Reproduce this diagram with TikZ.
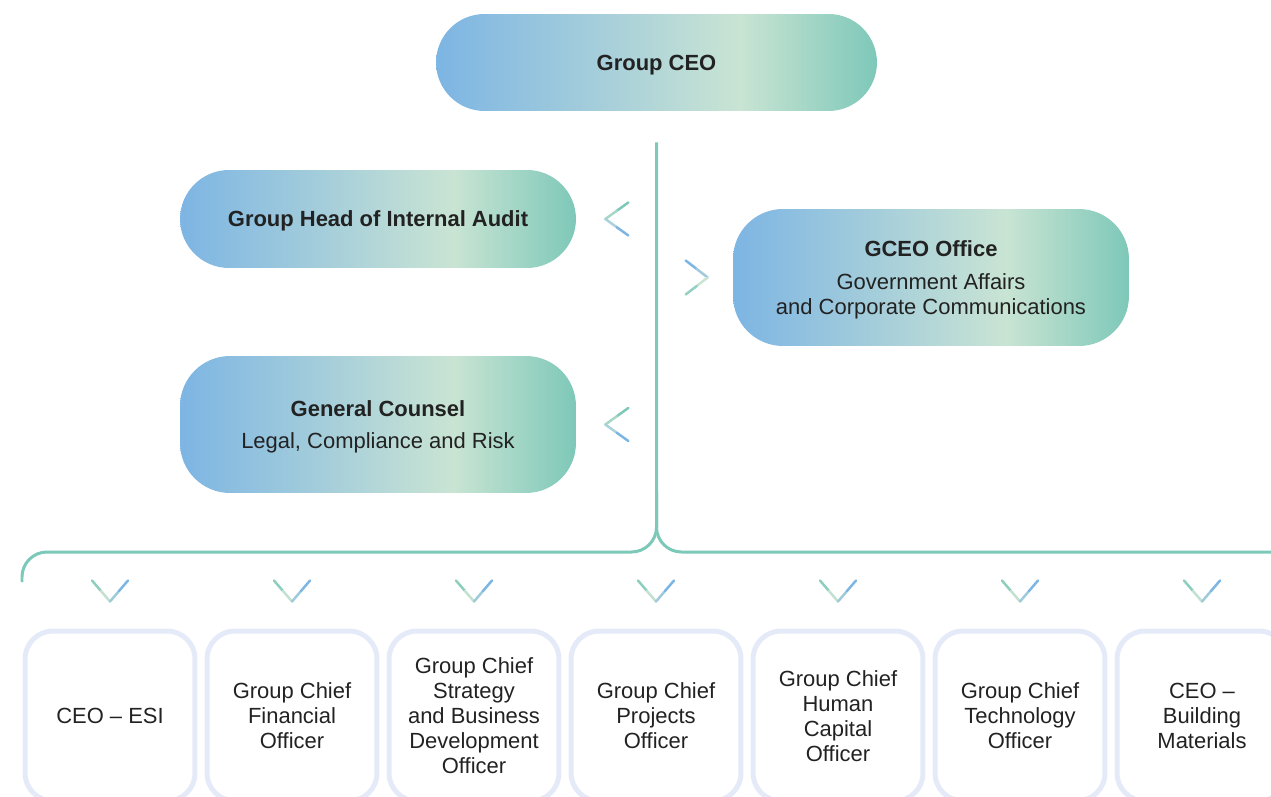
\documentclass[tikz,border=0pt]{standalone}
\usepackage{fontspec}
\setmainfont{Liberation Sans}
\usetikzlibrary{calc}

\definecolor{gBlue}{HTML}{7DB5E3}
\definecolor{gPale}{HTML}{C9E4D3}
\definecolor{gTeal}{HTML}{7EC8B9}
\definecolor{lineTeal}{HTML}{7CC8B9}
\definecolor{frameLav}{HTML}{E4EAF7}
\definecolor{ink}{HTML}{222222}

% blue -> pale mint -> teal fill of the leadership boxes
\pgfdeclarehorizontalshading{brand}{100bp}{%
  color(0bp)=(gBlue); color(25bp)=(gBlue); color(59.5bp)=(gPale);
  color(75bp)=(gTeal); color(100bp)=(gTeal)}

\begin{document}
\begin{tikzpicture}[x=0.02cm, y=-0.02cm,
  pill/.style={shading=brand, draw=none, align=center, text=ink,
    inner sep=0pt, text depth=0pt, font=\fontsize{12.5}{14.2}\selectfont},
  unit/.style={draw=frameLav, line width=0.1cm, rounded corners=0.56cm,
    minimum width=3.4cm, minimum height=3.4cm, align=center, text=ink,
    inner sep=0pt, font=\fontsize{12.5}{14.2}\selectfont},
  spine/.style={draw=lineTeal, line width=0.06cm, rounded corners=0.5cm},
  chev/.style={line width=0.05cm, line cap=round},
  pics/chevleft/.style={code={
    \draw[chev, gTeal] (23,-16.5) -- (11.5,-8.25);
    \draw[chev, gTeal!45!gPale] (11.5,-8.25) -- (0,0);
    \draw[chev, gPale!60!gBlue] (0,0) -- (11.5,8.25);
    \draw[chev, gBlue] (11.5,8.25) -- (23,16.5);
  }},
  pics/chevright/.style={code={
    \draw[chev, gBlue] (-22,-17) -- (-11,-8.5);
    \draw[chev, gBlue!55!gPale] (-11,-8.5) -- (0,0);
    \draw[chev, gPale] (0,0) -- (-11,8.5);
    \draw[chev, gTeal!70!gPale] (-11,8.5) -- (-22,17);
  }},
  pics/chevdown/.style={code={
    \draw[chev, gTeal!80!gPale] (-18,-21) -- (-9,-10.5);
    \draw[chev, gPale!90!gTeal] (-9,-10.5) -- (0,0);
    \draw[chev, gPale!45!gBlue] (0,0) -- (9,-10.5);
    \draw[chev, gBlue] (9,-10.5) -- (18,-21);
  }}]

\useasboundingbox (0,0) rectangle (1271,797);
\clip (0,0) rectangle (1271,797);

% leadership boxes
\node[pill, minimum width=8.82cm, minimum height=1.94cm, rounded corners=0.97cm]
  (ceo) at (656.5,62.5) {\bfseries Group CEO};
\node[pill, minimum width=7.92cm, minimum height=1.96cm, rounded corners=0.98cm]
  (audit) at (378,219) {\bfseries Group Head of Internal Audit};
\node[pill, minimum width=7.92cm, minimum height=2.74cm, rounded corners=1cm]
  (gceo) at (931,277.5) {{\bfseries GCEO Office}\\[4.5pt]Government Affairs\\and Corporate Communications};
\node[pill, minimum width=7.92cm, minimum height=2.74cm, rounded corners=1cm]
  (counsel) at (378,424.5) {{\bfseries General Counsel}\\[4.5pt]Legal, Compliance and Risk};

% business units
\node[unit] (u1) at (110,716) {CEO – ESI};
\node[unit] (u2) at (292,716) {Group Chief\\Financial\\Officer};
\node[unit] (u3) at (474,716) {Group Chief\\Strategy\\and Business\\Development\\Officer};
\node[unit] (u4) at (656,716) {Group Chief\\Projects\\Officer};
\node[unit] (u5) at (838,716) {Group Chief\\Human\\Capital\\Officer};
\node[unit] (u6) at (1020,716) {Group Chief\\Technology\\Officer};
\node[unit] (u7) at (1202,716) {CEO –\\Building\\Materials};

% reporting spine and the branch over the units
\coordinate (spineTop) at ($(ceo.south)+(0,31)$);
\coordinate (fork) at (spineTop |- 0,552);
\coordinate (leftEnd) at (22,582);
\coordinate (rightEnd) at (1296,600);
\draw[spine] (spineTop) -- (fork) -- (leftEnd |- fork) -- (leftEnd);
\draw[spine] ($(fork)+(0,-60)$) -- (fork) -- (rightEnd |- fork) -- (rightEnd);

% chevrons beside the staff boxes
\pic at ($(audit.east)+(29,0)$) {chevleft};
\pic at ($(counsel.east)+(29,0)$) {chevleft};
\pic at ($(gceo.west)+(-25,0)$) {chevright};

% chevrons above the units
\foreach \u in {u1,u2,u3,u4,u5,u6,u7}
  \pic at ($(\u.north)+(0,-27)$) {chevdown};

\end{tikzpicture}
\end{document}
